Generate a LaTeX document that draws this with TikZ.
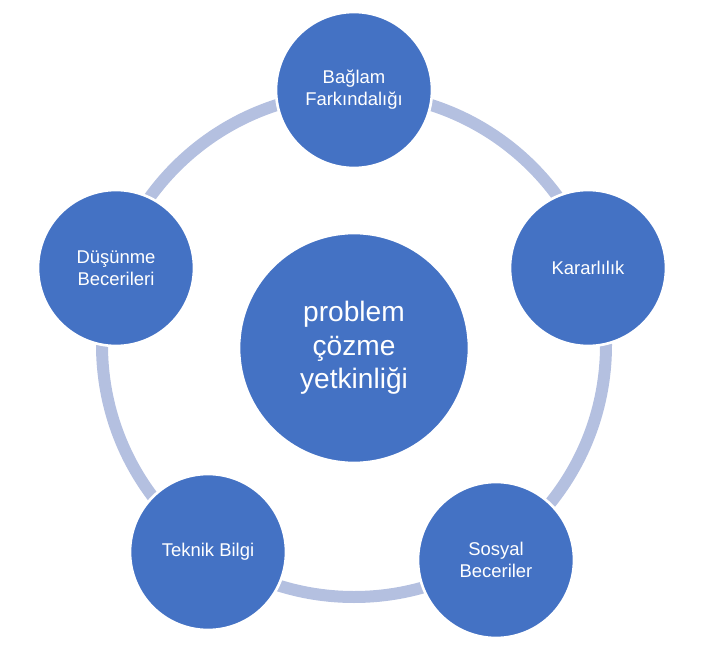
\documentclass[tikz,border=0pt]{standalone}
\usepackage{fontspec}
\setmainfont{Liberation Sans}
\definecolor{bubble}{HTML}{4472C4}
\definecolor{ring}{HTML}{B4C0E0}
\tikzset{
  skill/.style={circle, fill=bubble, draw=white, line width=1.5pt, minimum size=3.12cm,
    inner sep=0pt, align=center, text=white, font=\fontsize{10.5}{12.5}\selectfont},
  core/.style={skill, minimum size=4.6cm, font=\fontsize{16}{19}\selectfont}
}
\begin{document}
\begin{tikzpicture}[x=0.02cm, y=-0.02cm]
  \useasboundingbox (0,0) rectangle (710,645);
  % ring behind the bubbles
  \draw [ring, line width=0.24cm] (354,345) circle (252);
  % middle
  \node [core] (core) at (354,348) {problem\\çözme\\yetkinliği};
  % outer bubbles
  \node [skill] (baglam) at (354,90) {Bağlam\\Farkındalığı};
  \node [skill] (karar) at (588,268) {Kararlılık};
  \node [skill] (sosyal) at (496,560) {Sosyal\\Beceriler};
  \node [skill] (teknik) at (208,552) {Teknik Bilgi};
  \node [skill] (dusunme) at (116,268) {Düşünme\\Becerileri};
\end{tikzpicture}
\end{document}
